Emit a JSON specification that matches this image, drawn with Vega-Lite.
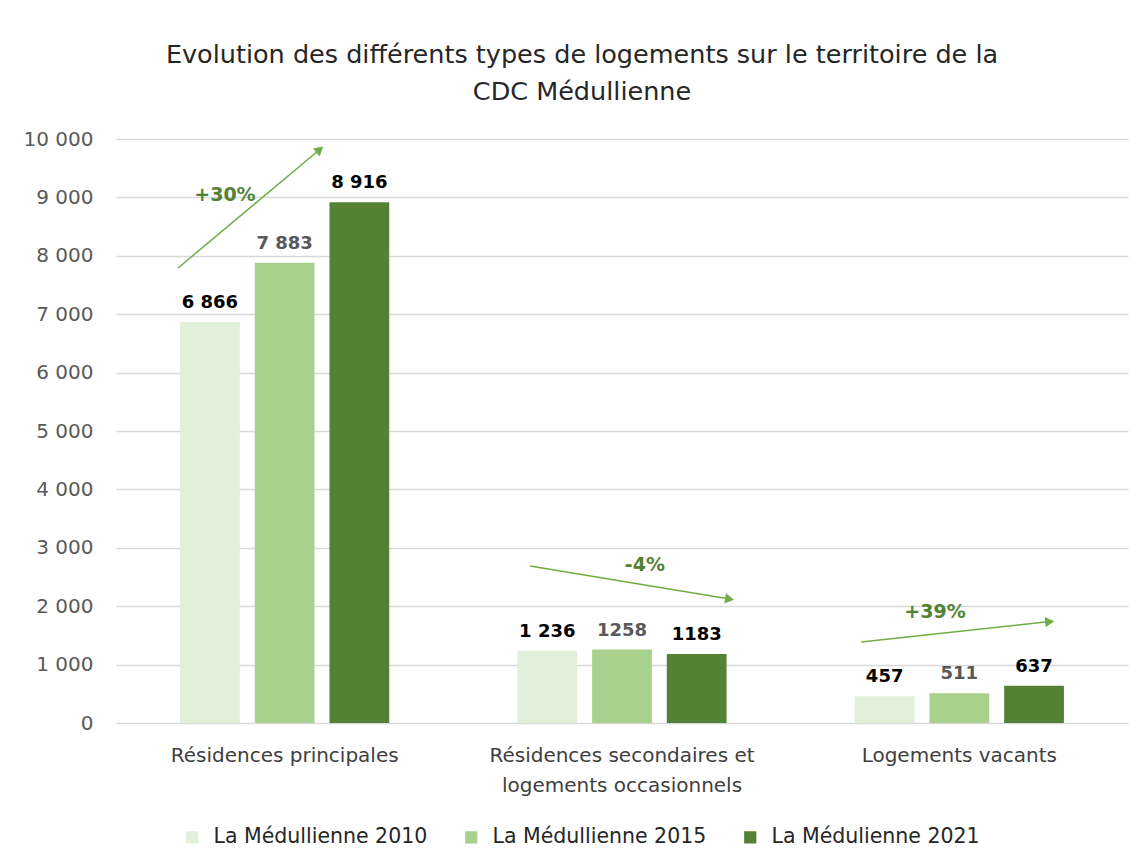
{
  "$schema": "https://vega.github.io/schema/vega-lite/v6.json",
  "width": 1012,
  "height": 584,
  "autosize": {"type": "none"},
  "padding": {"left": 116, "top": 139, "right": 15, "bottom": 144},
  "background": "white",
  "title": {
    "text": ["Evolution des différents types de logements sur le territoire de la", "CDC Médullienne"],
    "font": "DejaVu Sans",
    "fontSize": 25.5,
    "fontWeight": "normal",
    "color": "#262626",
    "anchor": "middle",
    "dx": -40,
    "offset": 24,
    "lineHeight": 37
  },
  "config": {
    "view": {"stroke": null},
    "font": "DejaVu Sans"
  },
  "datasets": {
    "bars": [
      {"cat": "Résidences principales", "series": "La Médullienne 2010", "value": 6866, "label": "6 866"},
      {"cat": "Résidences principales", "series": "La Médullienne 2015", "value": 7883, "label": "7 883"},
      {"cat": "Résidences principales", "series": "La Médulienne 2021", "value": 8916, "label": "8 916"},
      {"cat": "Résidences secondaires et logements occasionnels", "series": "La Médullienne 2010", "value": 1236, "label": "1 236"},
      {"cat": "Résidences secondaires et logements occasionnels", "series": "La Médullienne 2015", "value": 1258, "label": "1258"},
      {"cat": "Résidences secondaires et logements occasionnels", "series": "La Médulienne 2021", "value": 1183, "label": "1183"},
      {"cat": "Logements vacants", "series": "La Médullienne 2010", "value": 457, "label": "457"},
      {"cat": "Logements vacants", "series": "La Médullienne 2015", "value": 511, "label": "511"},
      {"cat": "Logements vacants", "series": "La Médulienne 2021", "value": 637, "label": "637"}
    ],
    "arrows": [
      {"id": 1, "xa": 0.184, "ya": 7791, "xb": 0.604, "yb": 9820, "tx": 0.323, "ty": 9041, "pct": "+30%"},
      {"id": 2, "xa": 1.227, "ya": 2688, "xb": 1.819, "yb": 2122, "tx": 1.568, "ty": 2705, "pct": "-4%"},
      {"id": 3, "xa": 2.209, "ya": 1387, "xb": 2.768, "yb": 1736, "tx": 2.428, "ty": 1900, "pct": "+39%"}
    ]
  },
  "layer": [
    {
      "data": {"name": "bars"},
      "encoding": {
        "x": {
          "field": "cat", "type": "nominal",
          "sort": ["Résidences principales", "Résidences secondaires et logements occasionnels", "Logements vacants"],
          "scale": {"paddingInner": 0.38, "paddingOuter": 0.19},
          "axis": {
            "title": null, "labelAngle": 0, "ticks": false, "domain": false,
            "labelFontSize": 20, "labelColor": "#404040", "labelPadding": 22,
            "labelLineHeight": 30, "labelFont": "DejaVu Sans", "labelLimit": 0,
            "labelExpr": "datum.value == 'Résidences secondaires et logements occasionnels' ? ['Résidences secondaires et', 'logements occasionnels'] : datum.value"
          }
        },
        "xOffset": {
          "field": "series", "type": "nominal",
          "sort": ["La Médullienne 2010", "La Médullienne 2015", "La Médulienne 2021"],
          "scale": {"paddingInner": 0.2, "paddingOuter": 0}
        },
        "y": {
          "field": "value", "type": "quantitative",
          "scale": {"domain": [0, 10000], "nice": false},
          "axis": {
            "title": null, "values": [0, 1000, 2000, 3000, 4000, 5000, 6000, 7000, 8000, 9000, 10000],
            "ticks": false, "domain": false, "gridColor": "#D9D9D9", "gridWidth": 1.3,
            "labelFontSize": 20, "labelColor": "#595959", "labelPadding": 23, "labelFont": "DejaVu Sans",
            "labelExpr": "replace(format(datum.value, ','), ',', ' ')"
          }
        }
      },
      "layer": [
        {
          "mark": {"type": "bar"},
          "encoding": {
            "color": {
              "field": "series", "type": "nominal",
              "scale": {
                "domain": ["La Médullienne 2010", "La Médullienne 2015", "La Médulienne 2021"],
                "range": ["#E2EFDA", "#A9D18E", "#548235"]
              },
              "legend": {
                "title": null, "orient": "none", "direction": "horizontal",
                "legendX": 66, "legendY": 688,
                "symbolType": "square", "symbolSize": 150, "symbolStrokeWidth": 0,
                "labelFontSize": 20.5, "labelColor": "#262626", "labelFont": "DejaVu Sans",
                "labelLimit": 0, "columnPadding": 33, "labelOffset": 11
              }
            }
          }
        },
        {
          "mark": {"type": "text", "baseline": "bottom", "dy": -10, "fontSize": 18, "fontWeight": "bold", "font": "DejaVu Sans"},
          "encoding": {
            "text": {"field": "label"},
            "color": {
              "condition": {"test": "datum.series == 'La Médullienne 2015'", "value": "#595959"},
              "value": "#000000"
            }
          }
        }
      ]
    },
    {
      "data": {"name": "arrows"},
      "encoding": {
        "x": {"field": "xb", "type": "quantitative", "scale": {"domain": [0, 3], "nice": false, "zero": false}, "axis": null},
        "y": {"field": "yb", "type": "quantitative"}
      },
      "layer": [
        {
          "mark": {"type": "rule", "color": "#70AD47", "strokeWidth": 1.5},
          "encoding": {
            "x": {"field": "xa", "type": "quantitative", "axis": null},
            "x2": {"field": "xb"},
            "y": {"field": "ya", "type": "quantitative"},
            "y2": {"field": "yb"}
          }
        },
        {
          "transform": [{"filter": "datum.id == 1"}],
          "mark": {"type": "point", "shape": "triangle-up", "filled": true, "color": "#70AD47", "size": 110, "opacity": 1, "angle": 50}
        },
        {
          "transform": [{"filter": "datum.id == 2"}],
          "mark": {"type": "point", "shape": "triangle-up", "filled": true, "color": "#70AD47", "size": 110, "opacity": 1, "angle": 99}
        },
        {
          "transform": [{"filter": "datum.id == 3"}],
          "mark": {"type": "point", "shape": "triangle-up", "filled": true, "color": "#70AD47", "size": 110, "opacity": 1, "angle": 84}
        },
        {
          "mark": {"type": "text", "fontSize": 19, "fontWeight": "bold", "color": "#548235", "font": "DejaVu Sans"},
          "encoding": {
            "x": {"field": "tx", "type": "quantitative", "axis": null},
            "y": {"field": "ty", "type": "quantitative"},
            "text": {"field": "pct"}
          }
        }
      ]
    }
  ],
  "resolve": {"scale": {"x": "independent"}}
}
